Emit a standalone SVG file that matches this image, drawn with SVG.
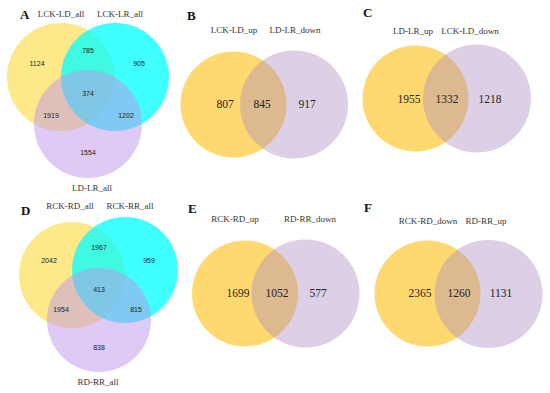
<svg xmlns="http://www.w3.org/2000/svg" width="550" height="393" viewBox="0 0 550 393">
<style>
.y3{fill:#FFD93C;fill-opacity:0.6}
.c3{fill:#00FFFF;fill-opacity:0.75}
.p3{fill:#BE96EA;fill-opacity:0.5}
.y2{fill:#FFD970}
.p2{fill:#AA89C0;fill-opacity:0.4}
.lab{font-family:"Liberation Serif",serif;font-size:9px;fill:#333;text-anchor:middle}
.let{font-family:"Liberation Serif",serif;font-size:13px;font-weight:bold;fill:#111}
.n3{font-family:"Liberation Sans",Arial,sans-serif;font-size:7px;fill:#222;text-anchor:middle}
.n2{font-family:"Liberation Serif",serif;font-size:11.5px;fill:#222;text-anchor:middle}
</style>
<rect width="550" height="393" fill="#fff"/>
<g id="panelA">
<circle class="y3" cx="61" cy="77" r="54"/>
<circle class="c3" cx="115" cy="77" r="54"/>
<circle class="p3" cx="88" cy="124" r="54"/>
<text class="let" x="20" y="19">A</text>
<text class="lab" x="61" y="17">LCK-LD_all</text>
<text class="lab" x="120" y="17">LCK-LR_all</text>
<text class="lab" x="92" y="191">LD-LR_all</text>
<text class="n3" x="37" y="65.5">1124</text>
<text class="n3" x="88" y="52.5">785</text>
<text class="n3" x="139" y="65.5">905</text>
<text class="n3" x="88" y="95.5">374</text>
<text class="n3" x="51" y="117.5">1919</text>
<text class="n3" x="126" y="117.5">1202</text>
<text class="n3" x="88" y="154.5">1554</text>
</g>
<g id="panelB">
<circle class="y2" cx="233.5" cy="104.5" r="53"/>
<circle class="p2" cx="294" cy="104.5" r="54"/>
<text class="let" x="187" y="20">B</text>
<text class="lab" x="234" y="33">LCK-LD_up</text>
<text class="lab" x="295" y="33">LD-LR_down</text>
<text class="n2" x="225" y="108">807</text>
<text class="n2" x="262" y="108">845</text>
<text class="n2" x="307" y="108">917</text>
</g>
<g id="panelC">
<circle class="y2" cx="415.5" cy="98.5" r="53"/>
<circle class="p2" cx="477" cy="98.5" r="54"/>
<text class="let" x="363" y="17">C</text>
<text class="lab" x="413" y="34">LD-LR_up</text>
<text class="lab" x="470" y="34">LCK-LD_down</text>
<text class="n2" x="409" y="103">1955</text>
<text class="n2" x="447" y="103">1332</text>
<text class="n2" x="490" y="103">1218</text>
</g>
<g id="panelD">
<circle class="y3" cx="72" cy="275" r="53"/>
<circle class="c3" cx="125" cy="270" r="53"/>
<circle class="p3" cx="99" cy="320" r="52"/>
<text class="let" x="21" y="215">D</text>
<text class="lab" x="70" y="209">RCK-RD_all</text>
<text class="lab" x="130" y="209">RCK-RR_all</text>
<text class="lab" x="98" y="385">RD-RR_all</text>
<text class="n3" x="49" y="262.5">2042</text>
<text class="n3" x="99" y="249.5">1967</text>
<text class="n3" x="149" y="262.5">959</text>
<text class="n3" x="99" y="291.5">413</text>
<text class="n3" x="61" y="311.5">1954</text>
<text class="n3" x="136" y="311.5">815</text>
<text class="n3" x="99" y="349.5">838</text>
</g>
<g id="panelE">
<circle class="y2" cx="245" cy="293.5" r="53"/>
<circle class="p2" cx="305.5" cy="293.5" r="54"/>
<text class="let" x="188" y="213">E</text>
<text class="lab" x="235" y="222">RCK-RD_up</text>
<text class="lab" x="310" y="222">RD-RR_down</text>
<text class="n2" x="238" y="297">1699</text>
<text class="n2" x="277" y="297">1052</text>
<text class="n2" x="318" y="297">577</text>
</g>
<g id="panelF">
<circle class="y2" cx="427.5" cy="293.5" r="53"/>
<circle class="p2" cx="488.5" cy="294" r="54"/>
<text class="let" x="364" y="212">F</text>
<text class="lab" x="428" y="224">RCK-RD_down</text>
<text class="lab" x="486" y="224">RD-RR_up</text>
<text class="n2" x="420" y="297">2365</text>
<text class="n2" x="459" y="297">1260</text>
<text class="n2" x="501" y="297">1131</text>
</g>
<g id="connectors"/>
</svg>
